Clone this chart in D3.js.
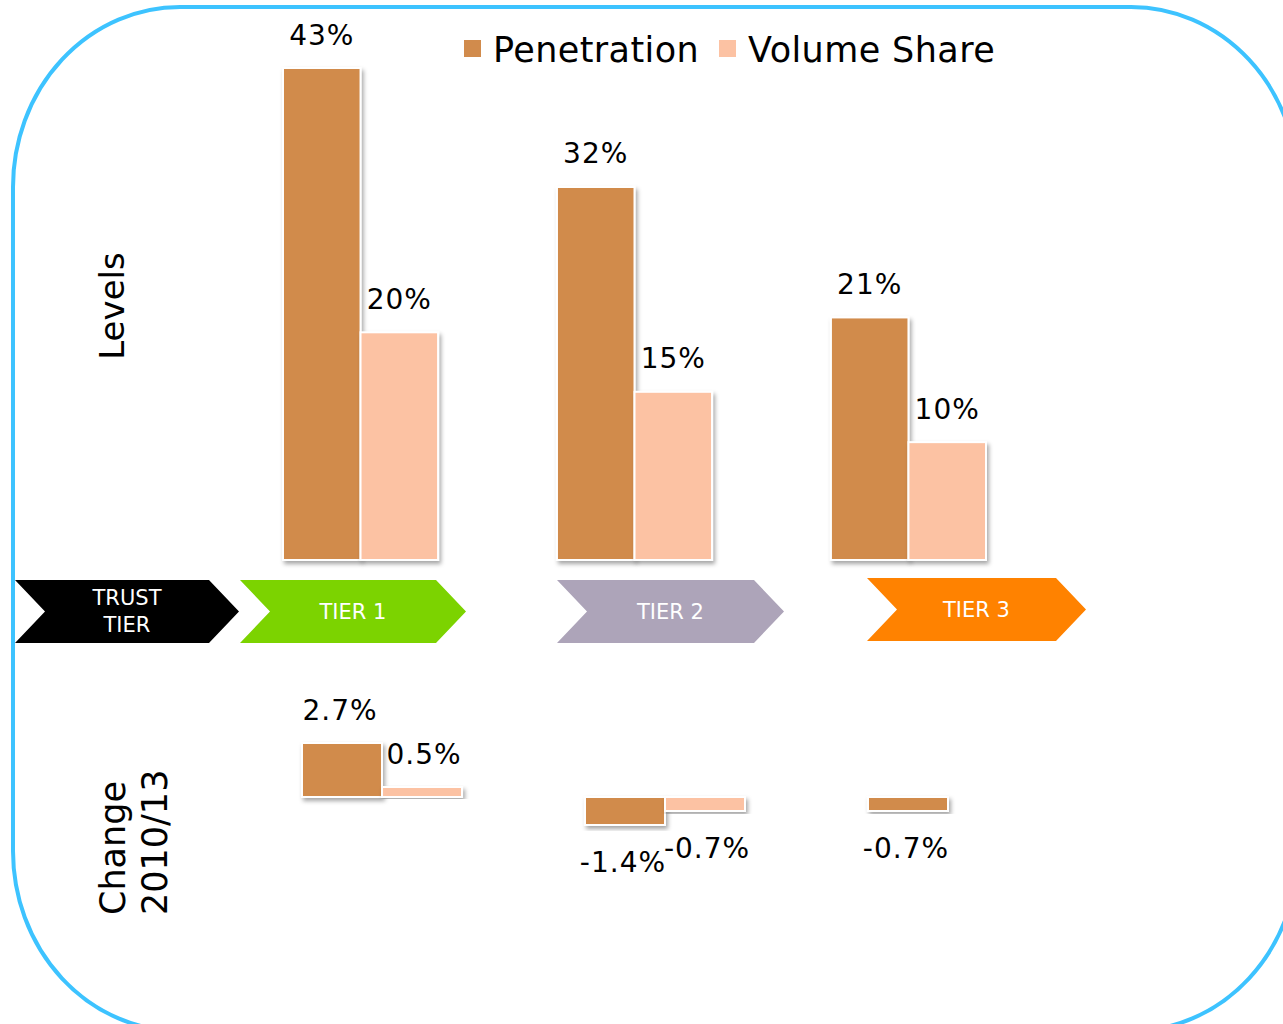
<!DOCTYPE html>
<html>
<head>
<meta charset="utf-8">
<script src="https://cdn.jsdelivr.net/npm/d3@7"></script>
<style>
  body { margin: 0; background: #fff; }
  svg { display: block; font-family: "DejaVu Sans", Verdana, sans-serif; }
</style>
</head>
<body>
<svg id="chart" width="1283" height="1024"></svg>
<script>
// ---- data ----
const tiers = ['TIER 1', 'TIER 2', 'TIER 3'];
const penetration = [43, 32.6, 21.2];      // levels, %
const volumeShare = [19.9, 14.7, 10.3];
const penLabels = ['43%', '32%', '21%'];
const volLabels = ['20%', '15%', '10%'];
const penChange = [2.7, -1.4, -0.7];       // change 2010/13, pts
const volChange = [0.5, -0.7, null];
const seriesNames = ['Penetration', 'Volume Share'];
const chevronLabels = [['TRUST', 'TIER'], ['TIER 1'], ['TIER 2'], ['TIER 3']];

// ---- styling ----
const penColor = '#D18B4C',
      volColor = '#FCC2A3',
      chevronColors = ['#000000', '#7CD300', '#ADA4B9', '#FF8200'],
      borderColor = '#3DC3FF';

const svg = d3.select('#chart');

const defs = svg.append('defs');
const shadow = defs.append('filter').attr('id', 'shadow')
  .attr('x', '-20%').attr('y', '-20%').attr('width', '140%').attr('height', '140%');
shadow.append('feDropShadow')
  .attr('dx', 2).attr('dy', 3).attr('stdDeviation', 2)
  .attr('flood-color', '#000').attr('flood-opacity', 0.35);

// rounded frame (runs off the right and bottom edges)
svg.append('rect')
  .attr('x', 13).attr('y', 7)
  .attr('width', 1285).attr('height', 1024)
  .attr('rx', 167).attr('ry', 180)
  .attr('fill', 'none')
  .attr('stroke', borderColor)
  .attr('stroke-width', 4);

// ---------------- Levels panel ----------------
const x = d3.scaleBand().domain(tiers).range([283, 986]).paddingInner(0.434).paddingOuter(0);
const y = d3.scaleLinear().domain([0, 43]).range([560, 68]);
const bw = x.bandwidth() / 2;

const levels = svg.append('g').attr('class', 'levels');

function drawPair(g, xs, ys, vals, cls, color, offset) {
  g.selectAll('rect.' + cls)
    .data(tiers.map((t, i) => ({ t: t, v: vals[i] })).filter(d => d.v !== null))
    .join('rect')
    .attr('class', cls)
    .attr('x', d => xs(d.t) + offset)
    .attr('y', d => ys(Math.max(0, d.v)))
    .attr('width', xs.bandwidth() / 2)
    .attr('height', d => Math.abs(ys(d.v) - ys(0)))
    .attr('fill', color)
    .attr('stroke', '#fff')
    .attr('stroke-width', 2)
    .attr('filter', 'url(#shadow)');
}

drawPair(levels, x, y, penetration, 'pen', penColor, 0);
drawPair(levels, x, y, volumeShare, 'vol', volColor, bw);

levels.selectAll('text.penlab')
  .data(tiers.map((t, i) => ({ t: t, v: penetration[i], l: penLabels[i] })))
  .join('text')
  .attr('x', d => x(d.t) + bw / 2)
  .attr('y', d => y(d.v) - 33)
  .attr('text-anchor', 'middle').attr('dominant-baseline', 'central')
  .attr('font-size', 28).attr('letter-spacing', 1)
  .text(d => d.l);

levels.selectAll('text.vollab')
  .data(tiers.map((t, i) => ({ t: t, v: volumeShare[i], l: volLabels[i] })))
  .join('text')
  .attr('x', d => x(d.t) + bw * 1.5)
  .attr('y', d => y(d.v) - 33)
  .attr('text-anchor', 'middle').attr('dominant-baseline', 'central')
  .attr('font-size', 28).attr('letter-spacing', 1)
  .text(d => d.l);

// ---------------- Change panel ----------------
const xc = d3.scaleBand().domain(tiers).range([302, 1028]).paddingInner(0.4346).paddingOuter(0);
const yc = d3.scaleLinear().domain([0, 2.7]).range([797, 743]);
const bwc = xc.bandwidth() / 2;
const fmt = d => d3.format('.1f')(d).replace('\u2212', '-') + '%';

const change = svg.append('g').attr('class', 'change');
drawPair(change, xc, yc, penChange, 'pen', penColor, 0);
drawPair(change, xc, yc, volChange, 'vol', volColor, bwc);

function changeLabels(vals, offset, cls) {
  change.selectAll('text.' + cls)
    .data(tiers.map((t, i) => ({ t: t, v: vals[i] })).filter(d => d.v !== null))
    .join('text')
    .attr('class', cls)
    .attr('x', d => xc(d.t) + offset)
    .attr('y', d => d.v >= 0 ? yc(d.v) - 33 : yc(d.v) + 37)
    .attr('text-anchor', 'middle').attr('dominant-baseline', 'central')
    .attr('font-size', 28).attr('letter-spacing', 1)
    .text(d => fmt(d.v));
}
changeLabels(penChange, bwc / 2 - 2, 'penlab');
changeLabels(volChange, bwc * 1.5 + 2, 'vollab');

// ---------------- tier chevrons ----------------
const chevronX = [15, 240, 557, 867];
const chevronW = [224, 226, 227, 219];
const chevronY = [580, 580, 580, 578];
const chH = 63, notch = 30;

const chev = svg.append('g').attr('class', 'chevrons')
  .selectAll('g')
  .data(chevronLabels.map((l, i) => ({ l: l, i: i })))
  .join('g')
  .attr('transform', d => `translate(${chevronX[d.i]},${chevronY[d.i]})`);

chev.append('path')
  .attr('d', d => {
    const w = chevronW[d.i];
    return `M0,0 L${w - notch},0 L${w},${chH / 2} L${w - notch},${chH} L0,${chH} L${notch},${chH / 2} Z`;
  })
  .attr('fill', d => chevronColors[d.i]);

chev.each(function(d) {
  const w = chevronW[d.i];
  const t = d3.select(this).append('text')
    .attr('text-anchor', 'middle')
    .attr('fill', '#fff')
    .attr('font-size', 21);
  const n = d.l.length;
  d.l.forEach((line, k) => {
    t.append('tspan')
      .attr('x', w / 2)
      .attr('y', chH / 2 + (k - (n - 1) / 2) * 27)
      .attr('dominant-baseline', 'central')
      .text(line);
  });
});

// ---------------- legend ----------------
const legendX = [464, 719];
const legend = svg.append('g').attr('class', 'legend')
  .selectAll('g')
  .data(seriesNames)
  .join('g')
  .attr('transform', (d, i) => `translate(${legendX[i]},40)`);
legend.append('rect')
  .attr('width', 17).attr('height', 17)
  .attr('fill', (d, i) => i === 0 ? penColor : volColor);
legend.append('text')
  .attr('x', 29).attr('y', 10)
  .attr('dominant-baseline', 'central')
  .attr('font-size', 35).attr('letter-spacing', 0.4)
  .text(d => d);

// ---------------- panel titles ----------------
svg.append('text')
  .attr('transform', 'translate(112,306) rotate(-90)')
  .attr('text-anchor', 'middle').attr('dominant-baseline', 'central')
  .attr('font-size', 34)
  .text('Levels');

const ct = svg.append('text')
  .attr('transform', 'translate(134,915) rotate(-90)')
  .attr('text-anchor', 'start')
  .attr('font-size', 35);
ct.append('tspan').attr('x', 0).attr('y', -21).attr('dominant-baseline', 'central').text('Change');
ct.append('tspan').attr('x', 0).attr('y', 21).attr('dominant-baseline', 'central').text('2010/13');
</script>
</body>
</html>
